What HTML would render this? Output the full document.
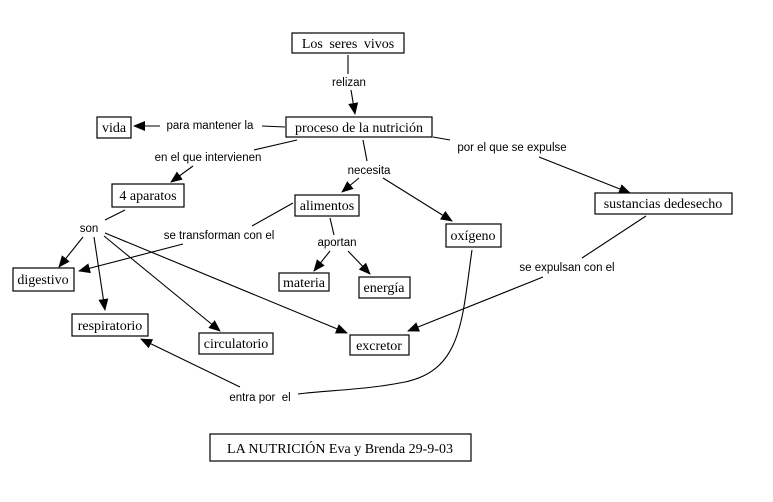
<!DOCTYPE html>
<html><head><meta charset="utf-8"><style>
html,body{margin:0;padding:0;background:#fff;}
svg{display:block;}
.b{fill:#fff;stroke:#000;stroke-width:1.2;}
.t{font-family:"Liberation Serif",serif;font-size:14px;fill:#000;}
.l{font-family:"Liberation Sans",sans-serif;font-size:11.5px;fill:#000;}
.ln{stroke:#000;stroke-width:1.1;fill:none;}
</style></head><body>
<svg width="773" height="502" viewBox="0 0 773 502" xmlns="http://www.w3.org/2000/svg">
<defs><marker id="a" markerWidth="12" markerHeight="12" refX="11" refY="5" orient="auto" markerUnits="userSpaceOnUse"><path d="M0,0 L12,5 L0,10 z" fill="#000"/></marker></defs>
<g class="ln">
<line x1="348" y1="55" x2="348" y2="74"/>
<line x1="351" y1="90" x2="355" y2="114" marker-end="url(#a)"/>
<line x1="262" y1="126" x2="285" y2="127"/>
<line x1="160" y1="126" x2="134" y2="126" marker-end="url(#a)"/>
<line x1="297" y1="140" x2="254" y2="150"/>
<line x1="193" y1="166" x2="171" y2="182" marker-end="url(#a)"/>
<line x1="363" y1="140" x2="367" y2="161"/>
<line x1="359" y1="178" x2="342" y2="192" marker-end="url(#a)"/>
<line x1="383" y1="178" x2="452" y2="221" marker-end="url(#a)"/>
<line x1="433" y1="137" x2="450" y2="140"/>
<line x1="539" y1="157" x2="630" y2="193" marker-end="url(#a)"/>
<line x1="125" y1="210" x2="105" y2="220"/>
<line x1="83" y1="237" x2="59" y2="267" marker-end="url(#a)"/>
<line x1="94" y1="237" x2="105" y2="310" marker-end="url(#a)"/>
<line x1="104" y1="236" x2="220" y2="331" marker-end="url(#a)"/>
<line x1="105" y1="233" x2="347" y2="333" marker-end="url(#a)"/>
<line x1="293" y1="203" x2="252" y2="226"/>
<line x1="183" y1="244" x2="79" y2="271" marker-end="url(#a)"/>
<line x1="330" y1="218" x2="334" y2="235"/>
<line x1="330" y1="251" x2="314" y2="271" marker-end="url(#a)"/>
<line x1="348" y1="251" x2="370" y2="274" marker-end="url(#a)"/>
<line x1="646" y1="216" x2="582" y2="258"/>
<line x1="543" y1="277" x2="408" y2="331" marker-end="url(#a)"/>
<path d="M472,250 C462,320 462,370 405,382 C365,390 330,390 298,394"/>
<line x1="240" y1="387" x2="141" y2="339" marker-end="url(#a)"/>
</g>
<rect class="b" x="292" y="33" width="112" height="20"/><text class="t" x="348" y="48" text-anchor="middle" word-spacing="3">Los seres vivos</text>
<rect class="b" x="286" y="117" width="146" height="20"/><text class="t" x="359" y="132" text-anchor="middle">proceso de la nutrición</text>
<rect class="b" x="97" y="117" width="34" height="21"/><text class="t" x="114" y="132" text-anchor="middle">vida</text>
<rect class="b" x="112" y="184" width="72" height="23"/><text class="t" x="148" y="200" text-anchor="middle">4 aparatos</text>
<rect class="b" x="295" y="195" width="64" height="21"/><text class="t" x="327" y="210" text-anchor="middle">alimentos</text>
<rect class="b" x="446" y="224" width="55" height="23"/><text class="t" x="473" y="240" text-anchor="middle">oxígeno</text>
<rect class="b" x="595" y="193" width="137" height="21"/><text class="t" x="663" y="208" text-anchor="middle">sustancias dedesecho</text>
<rect class="b" x="279" y="273" width="50" height="18"/><text class="t" x="304" y="287" text-anchor="middle">materia</text>
<rect class="b" x="359" y="277" width="51" height="21"/><text class="t" x="384" y="292" text-anchor="middle">energía</text>
<rect class="b" x="13" y="268" width="61" height="23"/><text class="t" x="43" y="284" text-anchor="middle">digestivo</text>
<rect class="b" x="72" y="314" width="76" height="22"/><text class="t" x="110" y="330" text-anchor="middle">respiratorio</text>
<rect class="b" x="199" y="333" width="74" height="21"/><text class="t" x="236" y="348" text-anchor="middle">circulatorio</text>
<rect class="b" x="350" y="335" width="59" height="20"/><text class="t" x="379" y="350" text-anchor="middle">excretor</text>
<rect class="b" x="210" y="434" width="261" height="27"/><text class="t" x="340" y="453" text-anchor="middle" font-size="15">LA NUTRICIÓN Eva y Brenda 29-9-03</text>
<g class="l">
<text x="349" y="86" text-anchor="middle">relizan</text>
<text x="210" y="129" text-anchor="middle">para mantener la</text>
<text x="208" y="161" text-anchor="middle">en el que intervienen</text>
<text x="369" y="174" text-anchor="middle">necesita</text>
<text x="512" y="151" text-anchor="middle">por el que se expulse</text>
<text x="89" y="232" text-anchor="middle">son</text>
<text x="219" y="239" text-anchor="middle">se transforman con el</text>
<text x="337" y="246" text-anchor="middle">aportan</text>
<text x="567" y="271" text-anchor="middle">se expulsan con el</text>
<text x="260" y="401" text-anchor="middle" xml:space="preserve">entra por  el</text>
</g>
</svg>
</body></html>
